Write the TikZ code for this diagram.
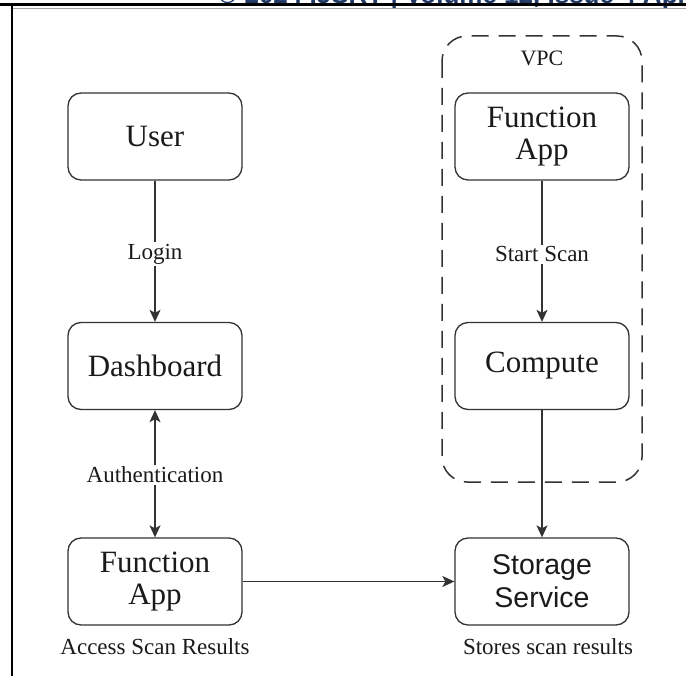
\documentclass[tikz,border=0pt]{standalone}
\usepackage{fontspec}
\setmainfont{Liberation Serif}
\newfontfamily\arialfont{Liberation Sans}
\usetikzlibrary{arrows.meta}
\definecolor{ink}{HTML}{333333}
\definecolor{txt}{HTML}{1A1A1A}
\definecolor{hdrblue}{HTML}{1F3864}
\tikzset{
  box/.style={draw=ink, line width=1.3pt, rounded corners=13pt, minimum width=174pt, minimum height=87pt, align=center, text=txt, font=\fontsize{31}{32}\selectfont, inner sep=0pt},
  sansbox/.style={box, font=\arialfont\fontsize{28.5}{33}\selectfont},
  conn/.style={draw=ink, line width=1.3pt},
  arr/.style={conn, -{Stealth[length=12pt, width=11pt, inset=3pt]}},
  biarr/.style={conn, {Stealth[length=12pt, width=11pt, inset=3pt]}-{Stealth[length=12pt, width=11pt, inset=3pt]}},
  lbl/.style={fill=white, text=txt, font=\fontsize{23}{26}\selectfont, inner sep=2pt},
  caption/.style={text=txt, font=\fontsize{23}{26}\selectfont, inner sep=0pt},
  vpc/.style={draw=ink, line width=1.5pt, rounded corners=25pt, dash pattern=on 17pt off 10pt}
}
\begin{document}
\begin{tikzpicture}[x=1pt, y=-1pt]
\useasboundingbox (0,0) rectangle (686,676);
\fill[white] (0,0) rectangle (686,676);
% page frame
\begin{scope}
\clip (0,0) rectangle (686,676);
\node[anchor=base west, inner sep=0pt, text=hdrblue, font=\arialfont\bfseries\fontsize{26}{28}\selectfont] (hdr) at (218,3.5) {© 2024 IJSRT | Volume 12, Issue 4 April};
\end{scope}
\fill[black] (0,3.5) rectangle (686,6.5);
\draw[gray!70, line width=0.8pt] (12,8) -- (686,8);
\fill[black] (11,5) rectangle (12.8,676);
% VPC
\draw[vpc] (442,36) rectangle (642,482);
\node[caption, font=\fontsize{22}{24}\selectfont] (vpclbl) at (542,58) {VPC};
% nodes
\node[box] (user) at (155,136.5) {User};
\node[box] (dash) at (155,366) {Dashboard};
\node[box] (fapp) at (155,581.5) {\raisebox{-2pt}{\parbox{170pt}{\centering Function\\App}}};
\node[box] (rfapp) at (542,136.5) {\raisebox{-2pt}{\parbox{170pt}{\centering Function\\App}}};
\node[box] (comp) at (542,366) {Compute};
\node[sansbox] (stor) at (542,581.5) {Storage\\Service};
% captions
\node[caption] (acc) at (155,647) {Access Scan Results};
\node[caption] (sto) at (548,647) {Stores scan results};
% connectors
\draw[arr] (user) -- node[lbl, yshift=-3pt] {Login} (dash);
\draw[biarr] (dash) -- node[lbl, yshift=-1pt] {Authentication} (fapp);
\draw[arr] (rfapp) -- node[lbl, yshift=-3pt] {Start Scan} (comp);
\draw[arr] (comp) -- (stor);
\draw[arr] (fapp) -- (stor);
\end{tikzpicture}
\end{document}
